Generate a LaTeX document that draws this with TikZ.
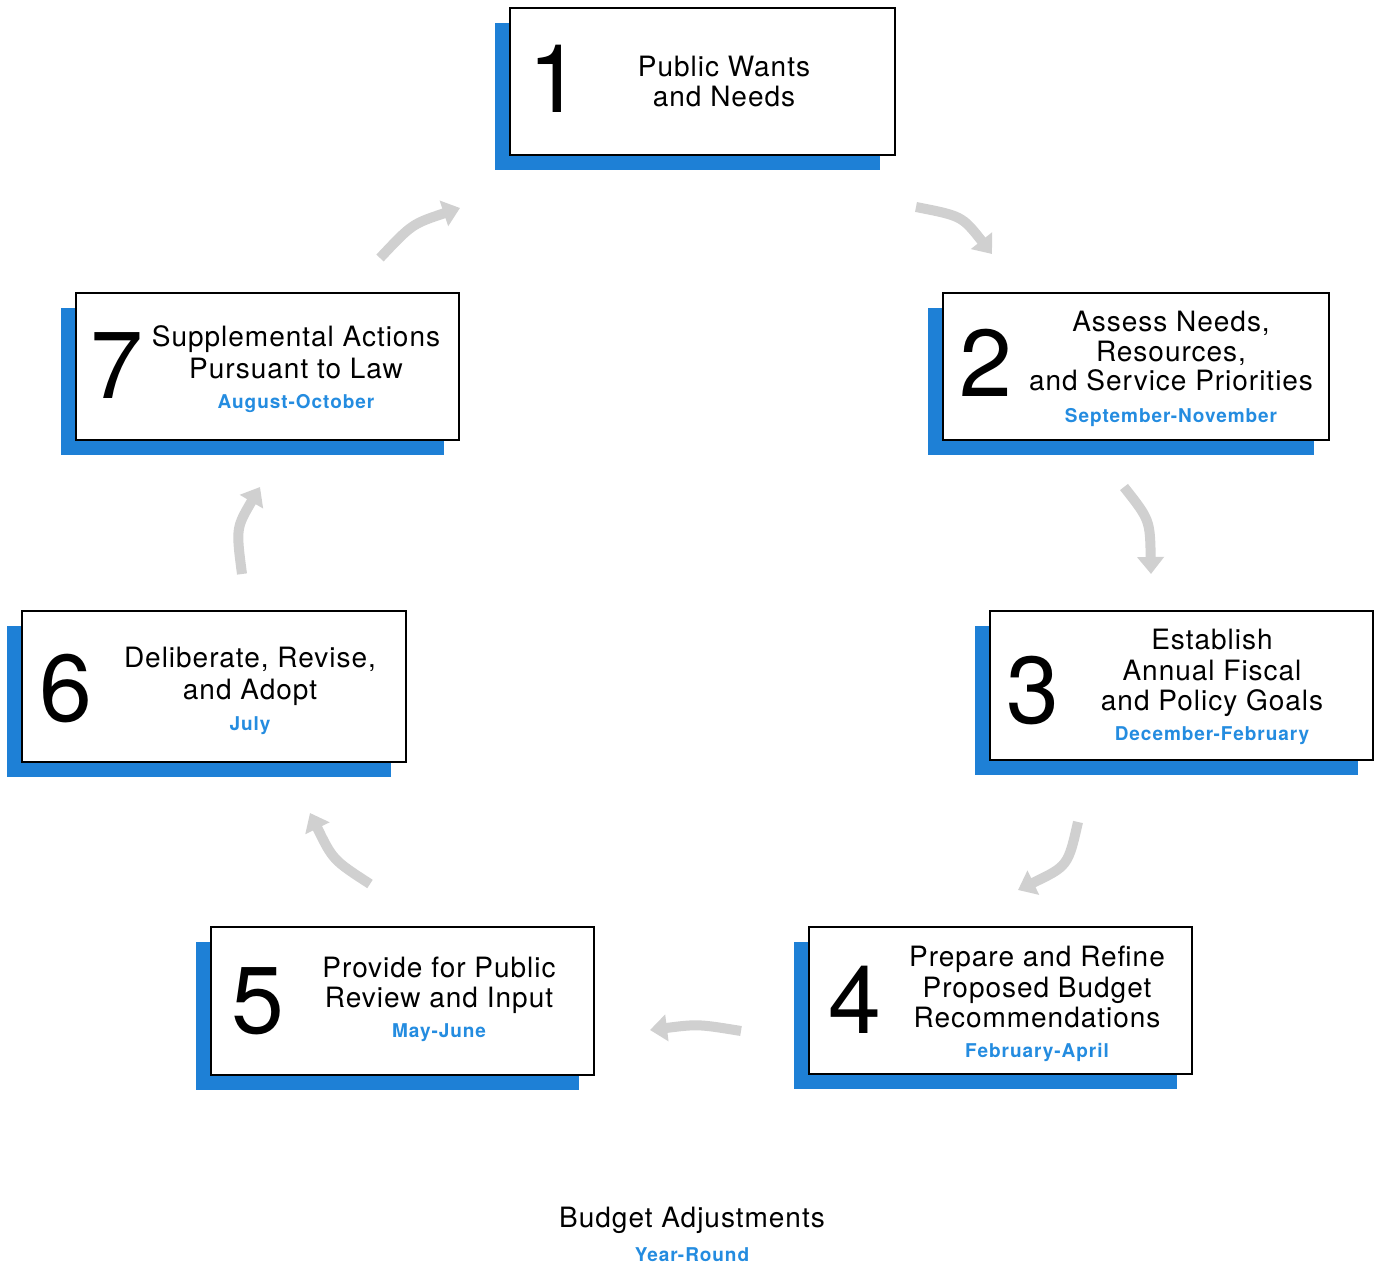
\documentclass[tikz,border=0pt]{standalone}
\usepackage{fontspec}
\setmainfont{TeX Gyre Heros}[LetterSpace=3.5]
\newfontfamily\monthf{TeX Gyre Heros}[LetterSpace=5]
\newfontfamily\digitf{TeX Gyre Heros}
\usetikzlibrary{shadows,arrows.meta}
\definecolor{boxblue}{RGB}{30,128,214}
\definecolor{monthblue}{RGB}{36,140,224}
\definecolor{arrowgray}{RGB}{208,208,208}
\begin{document}
\begin{tikzpicture}[x=1pt,y=-1pt,
  stepbox/.style={draw=black, line width=2.5pt, fill=white, inner sep=0pt,
    minimum width=385pt, minimum height=147pt,
    general shadow={fill=boxblue, shadow xshift=-15pt, shadow yshift=-15pt}},
  txtline/.style={font=\fontsize{28}{30}\selectfont, anchor=base, inner sep=0pt},
  monthline/.style={font=\monthf\bfseries\fontsize{19}{20}\selectfont, text=monthblue, anchor=base, inner sep=0pt},
  numtxt/.style={font=\digitf\fontsize{95}{95}\selectfont, anchor=base, inner sep=0pt},
  flowarrow/.style={draw=arrowgray, line width=10pt, -{Triangle[length=17pt,width=26pt]}}
]
\fill[white] (0,0) rectangle (1377,1265);
\useasboundingbox (0,0) rectangle (1377,1265);

% boxes
\node[stepbox, minimum width=385pt, minimum height=147pt] (b1) at (702.5,81.5) {};
\node[stepbox, minimum width=386pt, minimum height=147pt] (b2) at (1136,366.5) {};
\node[stepbox, minimum width=383pt, minimum height=149pt] (b3) at (1181.5,685.5) {};
\node[stepbox, minimum width=383pt, minimum height=147pt] (b4) at (1000.5,1000.5) {};
\node[stepbox, minimum width=383pt, minimum height=148pt] (b5) at (402.5,1001) {};
\node[stepbox, minimum width=384pt, minimum height=151pt] (b6) at (214,686.5) {};
\node[stepbox, minimum width=383pt, minimum height=147pt] (b7) at (267.5,366.5) {};

% box 1
\node[numtxt] (n1) at (555,113) {1};
\node[txtline] (t1a) at (724,77) {Public Wants};
\node[txtline] (t1b) at (724,107) {and Needs};

% box 2
\node[numtxt] (n2) at (986,396) {2};
\node[txtline] (t2a) at (1171,332) {Assess Needs,};
\node[txtline] (t2b) at (1171,362) {Resources,};
\node[txtline] (t2c) at (1171,391) {and Service Priorities};
\node[monthline] (m2) at (1171,423) {September-November};

% box 3
\node[numtxt] (n3) at (1033,723) {3};
\node[txtline] (t3a) at (1212,649) {Establish};
\node[txtline] (t3b) at (1212,680) {Annual Fiscal};
\node[txtline] (t3c) at (1212,710) {and Policy Goals};
\node[monthline] (m3) at (1212,740) {December-February};

% box 4
\node[numtxt] (n4) at (855,1033) {4};
\node[txtline] (t4a) at (1037,966) {Prepare and Refine};
\node[txtline] (t4b) at (1037,997) {Proposed Budget};
\node[txtline] (t4c) at (1037,1027) {Recommendations};
\node[monthline] (m4) at (1037,1057) {February-April};

% box 5
\node[numtxt] (n5) at (258,1033) {5};
\node[txtline] (t5a) at (439,977) {Provide for Public};
\node[txtline] (t5b) at (439,1007) {Review and Input};
\node[monthline] (m5) at (439,1037) {May-June};

% box 6
\node[numtxt] (n6) at (66,721) {6};
\node[txtline] (t6a) at (250,667) {Deliberate, Revise,};
\node[txtline] (t6b) at (250,699) {and Adopt};
\node[monthline] (m6) at (250,730) {July};

% box 7
\node[numtxt] (n7) at (117,399) {7};
\node[txtline] (t7a) at (296,347) {Supplemental Actions};
\node[txtline] (t7b) at (296,379) {Pursuant to Law};
\node[monthline] (m7) at (296,409) {August-October};

% bottom
\node[txtline] (ba) at (692,1227) {Budget Adjustments};
\node[monthline] (yr) at (692,1261) {Year-Round};

% arrows
\coordinate (a12s) at (916,207);
\coordinate (a12c) at (962,216);
\coordinate (a12e) at (992,254);
\coordinate (a23s) at (1124,487);
\coordinate (a23c) at (1150,520);
\coordinate (a23e) at (1151,574);
\coordinate (a34s) at (1078,822);
\coordinate (a34c) at (1068,866);
\coordinate (a34e) at (1018,890);
\coordinate (a45s) at (741,1031);
\coordinate (a45c) at (698,1024);
\coordinate (a45e) at (650,1030);
\coordinate (a56s) at (370,884);
\coordinate (a56c) at (333,860);
\coordinate (a56e) at (310,813);
\coordinate (a67s) at (242,574);
\coordinate (a67c) at (236,528);
\coordinate (a67e) at (260,487);
\coordinate (a71s) at (380,258);
\coordinate (a71c) at (412,224);
\coordinate (a71e) at (460,208);

\draw[flowarrow] (a12s) .. controls (a12c) .. (a12e);
\draw[flowarrow] (a23s) .. controls (a23c) .. (a23e);
\draw[flowarrow] (a34s) .. controls (a34c) .. (a34e);
\draw[flowarrow] (a45s) .. controls (a45c) .. (a45e);
\draw[flowarrow] (a56s) .. controls (a56c) .. (a56e);
\draw[flowarrow] (a67s) .. controls (a67c) .. (a67e);
\draw[flowarrow] (a71s) .. controls (a71c) .. (a71e);
\end{tikzpicture}
\end{document}
